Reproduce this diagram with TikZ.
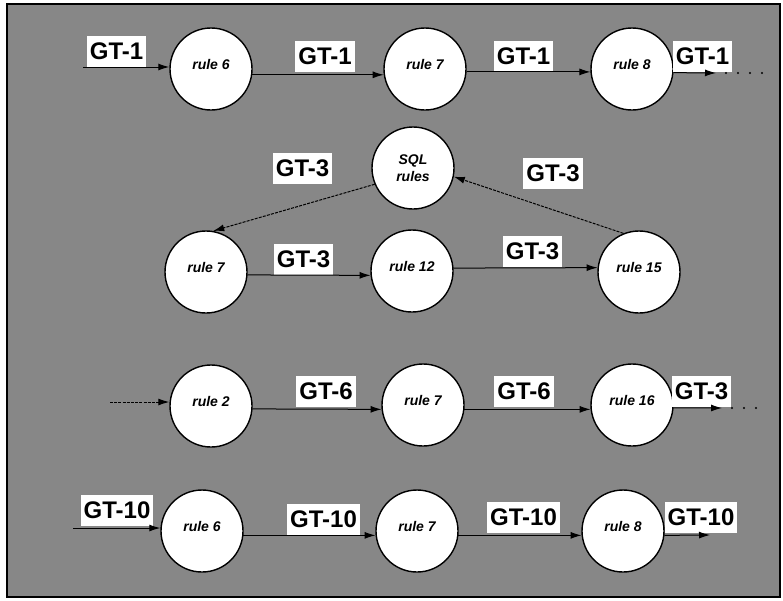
\documentclass[tikz,border=0pt]{standalone}
\usepackage{fontspec}
\setmainfont{Liberation Sans}
\usetikzlibrary{arrows.meta}
\begin{document}
\begin{tikzpicture}[x=1pt,y=-1pt,
  rulenode/.style={circle,draw=black,line width=1.4pt,fill=white,minimum size=82pt,inner sep=0pt,
    font=\fontsize{14}{15}\selectfont\bfseries\itshape,align=center},
  raised/.style={text height=10pt,text depth=10pt},
  gtlabel/.style={fill=white,inner xsep=3pt,inner ysep=0pt,minimum height=31pt,
    font=\fontsize{24}{26}\selectfont\bfseries},
  flow/.style={draw=black,line width=1pt,-{Latex[length=11pt,width=7pt]}},
  dflow/.style={flow,dash pattern=on 3pt off 1.2pt},
  trail/.style={draw=black,line width=2.4pt,line cap=round,dash pattern=on 0pt off 12pt}]
\useasboundingbox (0,0) rectangle (783,600);
\fill[white] (0,0) rectangle (783,600);
\draw[fill=black!47,line width=1.5pt] (7,4) rectangle (780,597);

% row 1
\node[rulenode,raised] (r1a) at (211,69) {rule 6};
\node[rulenode,raised] (r1b) at (425,69) {rule 7};
\node[rulenode,raised] (r1c) at (632,69) {rule 8};
\node[gtlabel] (l1a) at (116.5,51) {GT-1};
\node[gtlabel] (l1b) at (325,56) {GT-1};
\node[gtlabel] (l1c) at (523.5,56) {GT-1};
\node[gtlabel] (l1d) at (702.5,56) {GT-1};
\coordinate (in1) at (83,67);
\coordinate (out1) at (716,73);
\coordinate (end1) at (770,73);

% SQL
\node[rulenode] (sql) at (413,168) {SQL\\[2pt]rules};
\node[gtlabel] (l2a) at (302.5,168.5) {GT-3};
\node[gtlabel] (l2b) at (553,173) {GT-3};

% row 3
\node[rulenode,raised] (r3a) at (206,272) {rule 7};
\node[rulenode,raised] (r3b) at (412,271) {rule 12};
\node[rulenode,raised] (r3c) at (639,272) {rule 15};
\node[gtlabel] (l3a) at (303.5,259) {GT-3};
\node[gtlabel] (l3b) at (532.5,251) {GT-3};

% row 4
\node[rulenode,raised] (r4a) at (211,406) {rule 2};
\node[rulenode,raised] (r4b) at (423,405) {rule 7};
\node[rulenode,raised] (r4c) at (632,405) {rule 16};
\node[gtlabel] (l4a) at (326,391.5) {GT-6};
\node[gtlabel] (l4b) at (524,391.5) {GT-6};
\node[gtlabel] (l4c) at (701.5,391) {GT-3};
\coordinate (in4) at (110,402);
\coordinate (out4) at (722,408);
\coordinate (end4) at (764,408);

% row 5
\node[rulenode,raised] (r5a) at (202,531) {rule 6};
\node[rulenode,raised] (r5b) at (417,531) {rule 7};
\node[rulenode,raised] (r5c) at (623,531) {rule 8};
\node[gtlabel] (l5a) at (117,510) {GT-10};
\node[gtlabel] (l5b) at (323.5,519.5) {GT-10};
\node[gtlabel] (l5c) at (523.5,517) {GT-10};
\node[gtlabel] (l5d) at (701,517) {GT-10};
\coordinate (in5) at (73,528);
\coordinate (out5) at (710,535);

% connectors
\draw[flow] (in1) -- (in1 -| r1a.west);
\draw[flow] (r1a.-8) -- (r1b.188);
\draw[flow] (r1b.-4) -- (r1c.184);
\draw[flow] (r1c.-5) -- (out1);
\draw[trail] ([xshift=10pt]out1) -- (end1);

\draw[dflow] (sql.203) -- (r3a.80);
\draw[dflow] (r3c.112) -- (sql.-12);
\draw[flow] (r3a.-4) -- (r3b.186);
\draw[flow] (r3b.4) -- (r3c.174);

\draw[dflow] (in4) -- (in4 -| r4a.west);
\draw[flow] (r4a.-4) -- (r4b.186);
\draw[flow] (r4b.-6) -- (r4c.186);
\draw[flow] (r4c.-4) -- (out4);
\draw[trail] ([xshift=10pt]out4) -- (end4);

\draw[flow] (in5) -- (in5 -| r5a.west);
\draw[flow] (r5a.-6) -- (r5b.186);
\draw[flow] (r5b.-6) -- (r5c.186);
\draw[flow] (r5c.-6) -- (out5);
\end{tikzpicture}
\end{document}
